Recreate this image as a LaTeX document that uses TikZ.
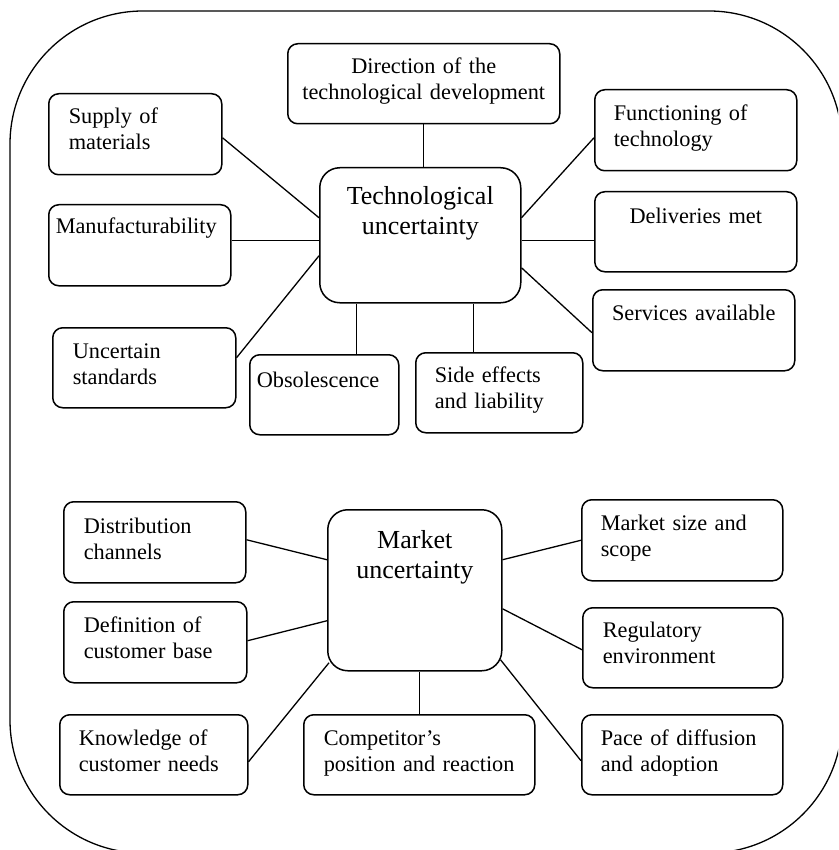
\documentclass[tikz,border=0pt]{standalone}
\usepackage{fontspec}
\setmainfont{Liberation Serif}
\newcommand\leaffont{\fontsize{22.3}{26}\selectfont}
\newcommand\hubfont{\fontsize{26}{29.5}\selectfont}
\tikzset{
  leaf/.style={draw, line width=1.5pt, rounded corners=10pt, inner sep=0pt,
    anchor=north west, align=left, font=\leaffont},
  leafc/.style={leaf, align=center},
  hub/.style={draw, line width=1.5pt, rounded corners=20pt, inner sep=0pt,
    anchor=north west, align=center, font=\hubfont},
  link/.style={line width=1.3pt},
  frame/.style={line width=1.3pt, rounded corners=133pt},
}
\begin{document}
\begin{tikzpicture}[x=1pt, y=-1pt]
\useasboundingbox (0,0) rectangle (838,850);

% outer rounded frame, running past the right and bottom edges
\begin{scope}
  \clip (0,0) rectangle (838,850);
  \draw[frame] (10,11) rectangle (842,853);
\end{scope}

% ---- technological uncertainty ----
\node[hub, minimum width=201pt, minimum height=135pt, text width=191pt,
  text height=37pt, text depth=98pt] (tech) at (319,167) {Technological\\uncertainty};

\node[leafc, minimum width=272pt, minimum height=80pt, text width=256pt,
  text height=30pt, text depth=50pt] (dir) at (287,43) {Direction of the\\technological development};
\node[leaf, minimum width=173pt, minimum height=81pt, text width=133pt,
  text height=30pt, text depth=51pt] (supply) at (48,93) {Supply of\\materials};
\node[leaf, minimum width=182pt, minimum height=81pt, text width=168pt,
  text height=29pt, text depth=52pt] (manu) at (48,204) {Manufacturability};
\node[leaf, minimum width=183pt, minimum height=80pt, text width=143pt,
  text height=31pt, text depth=49pt] (unc) at (52,327) {Uncertain\\standards};
\node[leaf, minimum width=149pt, minimum height=80pt, text width=135pt,
  text height=33pt, text depth=47pt] (obs) at (249,354) {Obsolescence};
\node[leaf, minimum width=167pt, minimum height=80pt, text width=129pt,
  text height=30pt, text depth=50pt] (side) at (415,352) {Side effects\\and liability};
\node[leaf, minimum width=202pt, minimum height=81pt, text width=164pt,
  text height=31pt, text depth=50pt] (func) at (594,89) {Functioning of\\technology};
\node[leafc, minimum width=202pt, minimum height=80pt, text width=190pt,
  text height=32pt, text depth=48pt] (deliv) at (594,191) {Deliveries met};
\node[leafc, minimum width=202pt, minimum height=81pt, text width=190pt,
  text height=31pt, text depth=50pt] (serv) at (592,289) {Services available};

\draw[link] (dir.south) -- (dir.south |- tech.north);
\draw[link] ([yshift=-3.5pt]supply.east) -- ([yshift=17.5pt]tech.west);
\draw[link] ([yshift=4.5pt]manu.east) -- ([yshift=-5.5pt]tech.west);
\draw[link] ([yshift=10pt]unc.east) -- ([yshift=-20.5pt]tech.west);
\draw[link] ([xshift=32.5pt]obs.north) -- ([xshift=32.5pt]obs.north |- tech.south);
\draw[link] ([xshift=-25.5pt]side.north) -- ([xshift=-25.5pt]side.north |- tech.south);
\draw[link] ([yshift=-7.5pt]func.west) -- ([yshift=17.5pt]tech.east);
\draw[link] ([yshift=-9pt]deliv.west) -- ([yshift=-5.5pt]tech.east);
\draw[link] ([yshift=-2.5pt]serv.west) -- ([yshift=-32.5pt]tech.east);

% ---- market uncertainty ----
\node[hub, minimum width=174pt, minimum height=161pt, text width=164pt,
  text height=39pt, text depth=122pt] (mkt) at (327,509) {Market\\uncertainty};

\node[leaf, minimum width=182pt, minimum height=81pt, text width=142pt,
  text height=32pt, text depth=49pt] (dist) at (63,501) {Distribution\\channels};
\node[leaf, minimum width=183pt, minimum height=81pt, text width=143pt,
  text height=31pt, text depth=50pt] (defn) at (63,601) {Definition of\\customer base};
\node[leaf, minimum width=188pt, minimum height=80pt, text width=150pt,
  text height=31pt, text depth=49pt] (know) at (59,714) {Knowledge of\\customer needs};
\node[leaf, minimum width=231pt, minimum height=80pt, text width=191pt,
  text height=31pt, text depth=49pt] (comp) at (303,714) {Competitor’s\\position and reaction};
\node[leaf, minimum width=201pt, minimum height=81pt, text width=163pt,
  text height=31pt, text depth=50pt] (msize) at (581,499) {Market size and\\scope};
\node[leaf, minimum width=200pt, minimum height=80pt, text width=160pt,
  text height=30pt, text depth=50pt] (reg) at (582,607) {Regulatory\\environment};
\node[leaf, minimum width=201pt, minimum height=80pt, text width=163pt,
  text height=31pt, text depth=49pt] (pace) at (581,714) {Pace of diffusion\\and adoption};

\draw[link] ([yshift=2.5pt]dist.east) -- ([yshift=30.5pt]mkt.west);
\draw[link] ([yshift=1.5pt]defn.east) -- ([yshift=-30.5pt]mkt.west);
\draw[link] ([yshift=-7pt]know.east) -- ([xshift=2pt,yshift=-72.5pt]mkt.west);
\draw[link] (comp.north) -- (comp.north |- mkt.south);
\draw[link] (msize.west) -- ([yshift=30.5pt]mkt.east);
\draw[link] ([yshift=-2pt]reg.west) -- ([yshift=-18.5pt]mkt.east);
\draw[link] ([yshift=-6pt]pace.west) -- ([xshift=-2pt,yshift=-69.5pt]mkt.east);
\end{tikzpicture}
\end{document}
